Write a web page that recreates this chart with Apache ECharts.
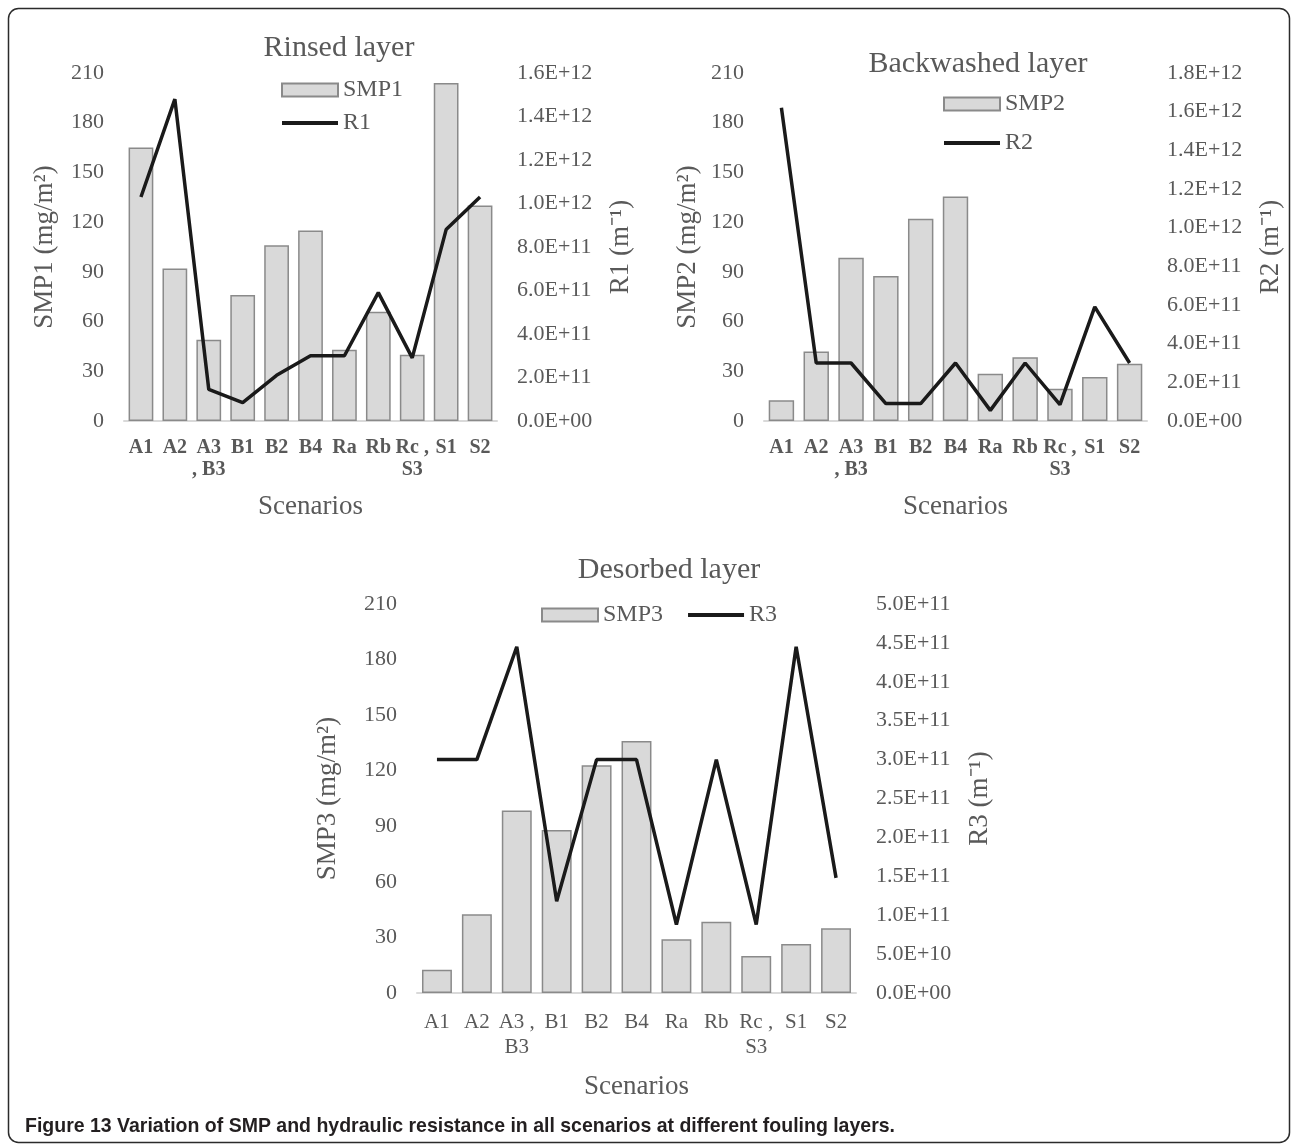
<!DOCTYPE html>
<html>
<head>
<meta charset="utf-8">
<script src="https://cdn.jsdelivr.net/npm/echarts@6/dist/echarts.min.js"></script>
<style>
  html, body { margin: 0; padding: 0; background: #fff; }
  #chart { width: 1292px; height: 1144px; }
</style>
</head>
<body>
<div id="chart"></div>
<script>
// ---- Data ----
const categories = ['A1', 'A2', 'A3 , B3', 'B1', 'B2', 'B4', 'Ra', 'Rb', 'Rc , S3', 'S1', 'S2'];
const smp1 = [165, 92, 49, 76, 106, 115, 43, 66, 40, 204, 130];
const r1 = [1.03e12, 1.48e12, 1.45e11, 8.5e10, 2.1e11, 3.0e11, 3.0e11, 5.9e11, 2.9e11, 8.8e11, 1.03e12];
const smp2 = [12.5, 42, 98.5, 87.5, 122, 135.5, 28.5, 38.5, 19.5, 26.5, 34.5];
const r2 = [1.62e12, 3.0e11, 3.0e11, 9.0e10, 9.0e10, 3.0e11, 5.5e10, 3.0e11, 8.5e10, 5.9e11, 3.0e11];
const smp3 = [12.5, 42.5, 98.5, 88, 123, 136, 29, 38.5, 20, 26.5, 35];
const r3 = [3.0e11, 3.0e11, 4.45e11, 1.18e11, 3.0e11, 3.0e11, 8.8e10, 3.0e11, 8.8e10, 4.45e11, 1.48e11];
const smpTicks = { min: 0, max: 210, interval: 30 };
const r1Ticks = { min: 0, max: 1.6e12, interval: 2e11 };
const r2Ticks = { min: 0, max: 1.8e12, interval: 2e11 };
const r3Ticks = { min: 0, max: 5e11, interval: 5e10 };
const labelsTop = { 'A3 , B3': 'A3\n, B3', 'Rc , S3': 'Rc ,\nS3' };
const labelsBottom = { 'A3 , B3': 'A3 ,\nB3', 'Rc , S3': 'Rc ,\nS3' };
const captionBold = 'Figure 13';
const captionText = 'Variation of SMP and hydraulic resistance in all scenarios at different fouling layers.';

// ---- Styles ----
const SERIF = "'Liberation Serif', 'Times New Roman', serif";
const SANS = "'Liberation Sans', Arial, sans-serif";
const GREY = '#595959';
const barStyle = { color: '#d9d9d9', borderColor: '#8a8a8a', borderWidth: 1.5 };
const lineStyle = { color: '#1a1a1a', width: 3.5 };

function sci(v) {
  if (v === 0) return '0.0E+00';
  const e = Math.floor(Math.log10(Math.abs(v)) + 1e-9);
  const m = v / Math.pow(10, e);
  return m.toFixed(1) + 'E+' + String(e).padStart(2, '0');
}

function xAxis(gridIndex, map, bold, margin, lineHeight, nameGap) {
  return {
    type: 'category', gridIndex, data: categories,
    axisLine: { lineStyle: { color: '#d9d9d9', width: 2 } },
    axisTick: { show: false },
    axisLabel: {
      interval: 0, hideOverlap: false, margin,
      color: GREY, fontFamily: SERIF, fontSize: bold ? 20 : 21,
      fontWeight: bold ? 'bold' : 'normal', lineHeight,
      formatter: v => map[v] || v
    },
    name: 'Scenarios', nameLocation: 'middle', nameGap,
    nameTextStyle: { color: GREY, fontFamily: SERIF, fontSize: 27 }
  };
}
function yLeft(gridIndex, name, nameGap) {
  return {
    type: 'value', gridIndex, position: 'left', ...smpTicks,
    splitLine: { show: false }, axisLine: { show: false }, axisTick: { show: false },
    axisLabel: { color: GREY, fontFamily: SERIF, fontSize: 22, margin: 20 },
    name, nameLocation: 'middle', nameRotate: 90, nameGap,
    nameTextStyle: { color: GREY, fontFamily: SERIF, fontSize: 27 }
  };
}
function yRight(gridIndex, ticks, name, nameGap) {
  return {
    type: 'value', gridIndex, position: 'right', ...ticks,
    splitLine: { show: false }, axisLine: { show: false }, axisTick: { show: false },
    axisLabel: { color: GREY, fontFamily: SERIF, fontSize: 22, margin: 20, formatter: sci },
    name, nameLocation: 'middle', nameRotate: 90, nameGap,
    nameTextStyle: { color: GREY, fontFamily: SERIF, fontSize: 27 }
  };
}
function title(text, cx, top) {
  return {
    text, left: cx, top, textAlign: 'center',
    textStyle: { color: GREY, fontFamily: SERIF, fontSize: 30, fontWeight: 'normal' }
  };
}
function legend(barName, lineName, left, top, orient, itemGap) {
  return {
    data: [
      { name: barName, icon: 'rect' },
      { name: lineName, itemStyle: { opacity: 0, color: 'rgba(0,0,0,0)', borderWidth: 0 }, lineStyle: { width: 4, color: '#1a1a1a' } }
    ],
    left, top, orient, itemGap, padding: 0,
    itemWidth: 56, itemHeight: 13,
    textStyle: { color: GREY, fontFamily: SERIF, fontSize: 24 }
  };
}

// caption width fitting (reference caption spans ~870px in a condensed face)
const CAP_SIZE = 21;
const ctx = document.createElement('canvas').getContext('2d');
ctx.font = 'bold ' + CAP_SIZE + 'px ' + SANS;
const capWidth = ctx.measureText(captionBold + ' ' + captionText).width;
const capScale = 870 / capWidth;

const chart = echarts.init(document.getElementById('chart'), null, { renderer: 'canvas' });
chart.setOption({
  animation: false,
  backgroundColor: '#fff',
  title: [
    title('Rinsed layer', 334, 28),
    title('Backwashed layer', 973, 44),
    title('Desorbed layer', 664, 550)
  ],
  legend: [
    legend('SMP1', 'R1', 280, 78, 'vertical', 9),
    legend('SMP2', 'R2', 942, 92, 'vertical', 15),
    legend('SMP3', 'R3', 541, 603, 'horizontal', 23)
  ],
  grid: [
    { left: 124, top: 73, width: 373, height: 348 },
    { left: 764, top: 73, width: 383, height: 348 },
    { left: 417, top: 604, width: 439, height: 389 }
  ],
  xAxis: [
    xAxis(0, labelsTop, true, 16, 22, 72),
    xAxis(1, labelsTop, true, 16, 22, 72),
    xAxis(2, labelsBottom, false, 17, 25, 80)
  ],
  yAxis: [
    yLeft(0, 'SMP1 (mg/m\u00B2)', 66),
    yRight(0, r1Ticks, 'R1 (m\u207B\u00B9)', 110),
    yLeft(1, 'SMP2 (mg/m\u00B2)', 63),
    yRight(1, r2Ticks, 'R2 (m\u207B\u00B9)', 110),
    yLeft(2, 'SMP3 (mg/m\u00B2)', 76),
    yRight(2, r3Ticks, 'R3 (m\u207B\u00B9)', 110)
  ],
  series: [
    { name: 'SMP1', type: 'bar', xAxisIndex: 0, yAxisIndex: 0, data: smp1, barCategoryGap: '27%', itemStyle: barStyle },
    { name: 'R1', type: 'line', xAxisIndex: 0, yAxisIndex: 1, data: r1, symbol: 'none', lineStyle, itemStyle: { color: '#1a1a1a' } },
    { name: 'SMP2', type: 'bar', xAxisIndex: 1, yAxisIndex: 2, data: smp2, barCategoryGap: '27%', itemStyle: barStyle },
    { name: 'R2', type: 'line', xAxisIndex: 1, yAxisIndex: 3, data: r2, symbol: 'none', lineStyle, itemStyle: { color: '#1a1a1a' } },
    { name: 'SMP3', type: 'bar', xAxisIndex: 2, yAxisIndex: 4, data: smp3, barCategoryGap: '25%', itemStyle: barStyle },
    { name: 'R3', type: 'line', xAxisIndex: 2, yAxisIndex: 5, data: r3, symbol: 'none', lineStyle, itemStyle: { color: '#1a1a1a' } }
  ],
  graphic: [
    {
      type: 'rect', silent: true, z: -1,
      shape: { x: 8.5, y: 8.5, width: 1281, height: 1134, r: 10 },
      style: { fill: 'none', stroke: '#2b2b2b', lineWidth: 1.5 }
    },
    {
      type: 'text', x: 25, y: 1126, scaleX: capScale, silent: true,
      style: {
        text: captionBold + ' ' + captionText,
        fontFamily: SANS, fontSize: CAP_SIZE, fontWeight: 'bold',
        fill: '#231f20', verticalAlign: 'middle', align: 'left'
      }
    }
  ]
});
</script>
</body>
</html>
